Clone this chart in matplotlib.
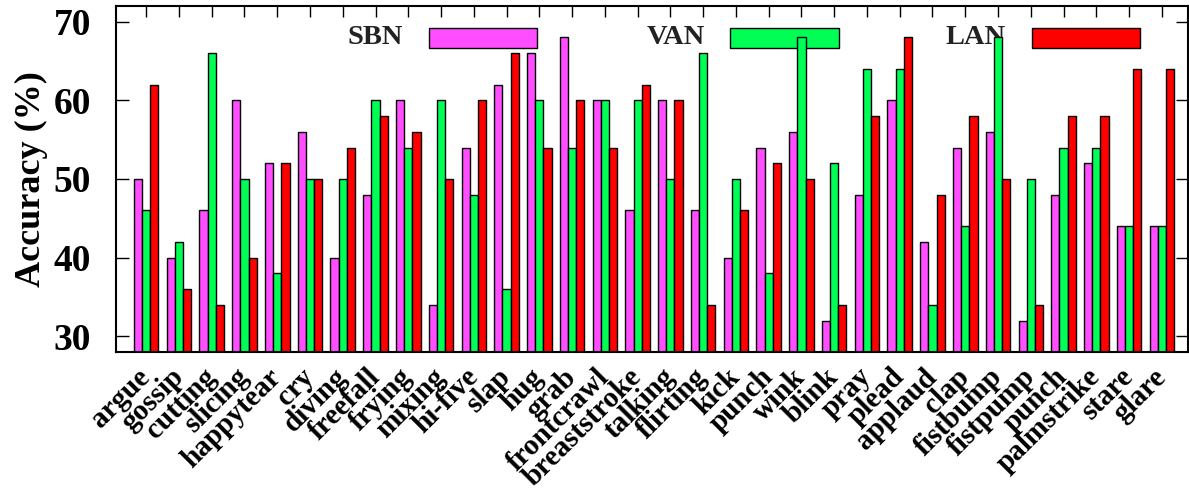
import numpy as np
import matplotlib
matplotlib.use("Agg")
import matplotlib.pyplot as plt
from matplotlib.patches import Rectangle

actions = ["argue", "gossip", "cutting", "slicing", "happytear", "cry", "diving",
           "freefall", "frying", "mixing", "hi-five", "slap", "hug", "grab",
           "frontcrawl", "breaststroke", "talking", "flirting", "kick", "punch",
           "wink", "blink", "pray", "plead", "applaud", "clap", "fistbump",
           "fistpump", "punch", "palmstrike", "stare", "glare"]

sbn = [50, 40, 46, 60, 52, 56, 40, 48, 60, 34, 54, 62, 66, 68, 60, 46,
       60, 46, 40, 54, 56, 32, 48, 60, 42, 54, 56, 32, 48, 52, 44, 44]
van = [46, 42, 66, 50, 38, 50, 50, 60, 54, 60, 48, 36, 60, 54, 60, 60,
       50, 66, 50, 38, 68, 52, 64, 64, 34, 44, 68, 50, 54, 54, 44, 44]
lan = [62, 36, 34, 40, 52, 50, 54, 58, 56, 50, 60, 66, 54, 60, 54, 62,
       60, 34, 46, 52, 50, 34, 58, 68, 48, 58, 50, 34, 58, 58, 64, 64]

series = [("SBN", sbn, "#ff4dff"), ("VAN", van, "#00ff55"), ("LAN", lan, "#ff0000")]

plt.rcParams['font.family'] = ['Liberation Serif', 'DejaVu Serif']
plt.rcParams['font.weight'] = 'bold'

fig = plt.figure(figsize=(11.89, 4.90), dpi=100)
ax = fig.add_axes([0.0976, 0.2816, 0.9016, 0.7062])

x = np.arange(len(actions))
w = 0.25
for k, (name, vals, col) in enumerate(series):
    ax.bar(x + (k - 1) * w, vals, w, color=col, edgecolor='black', linewidth=1.0,
           zorder=2)

ax.set_xlim(-0.92, 31.8)
ax.set_ylim(28, 72)
ax.set_yticks([30, 40, 50, 60, 70])
ax.set_xticks(x)
ax.set_xticklabels(actions, rotation=45, ha='right', va='center',
                   rotation_mode='anchor', fontsize=21, fontweight='bold')
for lbl in ax.get_yticklabels():
    lbl.set_fontweight('bold')
ax.tick_params(axis='y', direction='in', length=9, width=1, left=True, right=True,
               labelsize=27, pad=18)
ax.tick_params(axis='x', direction='in', length=8, width=1, bottom=False, top=True,
               pad=15)
ax.set_ylabel('Accuracy (%)', fontsize=26, fontweight='bold', labelpad=4)
for s in ax.spines.values():
    s.set_linewidth(1.5)

# legend drawn inside the plot, gnuplot style (bars go over it)
for k, (name, vals, col) in enumerate(series):
    off = 0.281 * k
    ax.text(0.268 + off, 0.9075, name, transform=ax.transAxes, ha='right',
            va='center', fontsize=20.5, fontweight='bold', color='#222222', zorder=1)
    ax.add_patch(Rectangle((0.292 + off, 0.878), 0.101, 0.059, transform=ax.transAxes,
                           facecolor=col, edgecolor='black', linewidth=1.0, zorder=1))

fig.savefig("out.png", dpi=100)
